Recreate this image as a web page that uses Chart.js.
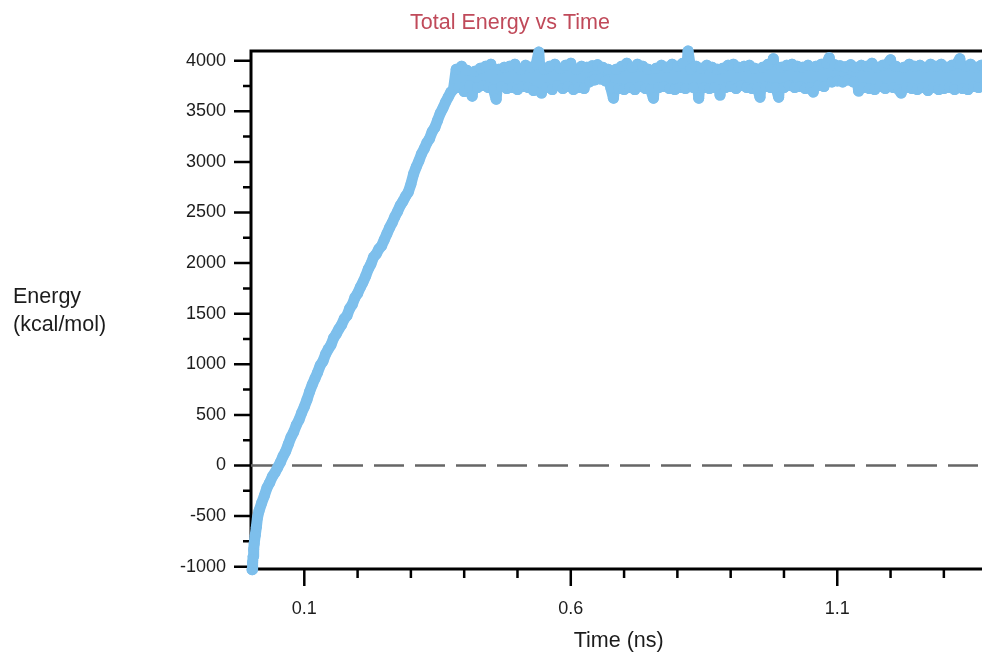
<!DOCTYPE html>
<html>
<head>
<meta charset="utf-8">
<title>Total Energy vs Time</title>
<script src="https://cdn.jsdelivr.net/npm/chart.js@4.4.1/dist/chart.umd.min.js"></script>
<style>
  html, body { margin: 0; padding: 0; background: #fff; overflow: hidden; }
  canvas { display: block; }
</style>
</head>
<body>
<canvas id="energyChart" width="992" height="655"></canvas>
<script>
const FONT = "'Liberation Sans', Arial, sans-serif";
const TEXT_COLOR = '#1c1c1c';
const SERIES_COLOR = 'rgb(125, 191, 236)';

// axis ticks
const X_TICKS = [0.1, 0.6, 1.1];
const X_MINOR = [0.2, 0.3, 0.4, 0.5, 0.7, 0.8, 0.9, 1.0, 1.2, 1.3];
const Y_TICKS = [-1000, -500, 0, 500, 1000, 1500, 2000, 2500, 3000, 3500, 4000];
const Y_MINOR = [-750, -250, 250, 750, 1250, 1750, 2250, 2750, 3250, 3750];

// simulation time (ns)
const TIME_NS = [
  0.002, 0.003, 0.004, 0.005, 0.006, 0.008, 0.010, 0.012, 0.015, 0.020,
  0.025, 0.030, 0.035, 0.040, 0.045, 0.050, 0.055, 0.060, 0.065, 0.070,
  0.075, 0.080, 0.085, 0.090, 0.095, 0.100, 0.105, 0.110, 0.115, 0.120,
  0.125, 0.130, 0.135, 0.140, 0.145, 0.150, 0.155, 0.160, 0.165, 0.170,
  0.175, 0.180, 0.185, 0.190, 0.195, 0.200, 0.205, 0.210, 0.215, 0.220,
  0.225, 0.230, 0.235, 0.240, 0.245, 0.250, 0.255, 0.260, 0.265, 0.270,
  0.275, 0.280, 0.285, 0.290, 0.295, 0.300, 0.305, 0.310, 0.315, 0.320,
  0.325, 0.330, 0.335, 0.340, 0.345, 0.350, 0.355, 0.360, 0.365, 0.370,
  0.375, 0.380,
  0.385, 0.390, 0.395, 0.400, 0.405, 0.410, 0.415, 0.420, 0.425, 0.430,
  0.435, 0.440, 0.445, 0.450, 0.455, 0.460, 0.465, 0.470, 0.475, 0.480,
  0.485, 0.490, 0.495, 0.500, 0.505, 0.510, 0.515, 0.520, 0.525, 0.530,
  0.535, 0.540, 0.545, 0.550, 0.555, 0.560, 0.565, 0.570, 0.575, 0.580,
  0.585, 0.590, 0.595, 0.600, 0.605, 0.610, 0.615, 0.620, 0.625, 0.630,
  0.635, 0.640, 0.645, 0.650, 0.655, 0.660, 0.665, 0.670, 0.675, 0.680,
  0.685, 0.690, 0.695, 0.700, 0.705, 0.710, 0.715, 0.720, 0.725, 0.730,
  0.735, 0.740, 0.745, 0.750, 0.755, 0.760, 0.765, 0.770, 0.775, 0.780,
  0.785, 0.790, 0.795, 0.800, 0.805, 0.810, 0.815, 0.820, 0.825, 0.830,
  0.835, 0.840, 0.845, 0.850, 0.855, 0.860, 0.865, 0.870, 0.875, 0.880,
  0.885, 0.890, 0.895, 0.900, 0.905, 0.910, 0.915, 0.920, 0.925, 0.930,
  0.935, 0.940, 0.945, 0.950, 0.955, 0.960, 0.965, 0.970, 0.975, 0.980,
  0.985, 0.990, 0.995, 1.000, 1.005, 1.010, 1.015, 1.020, 1.025, 1.030,
  1.035, 1.040, 1.045, 1.050, 1.055, 1.060, 1.065, 1.070, 1.075, 1.080,
  1.085, 1.090, 1.095, 1.100, 1.105, 1.110, 1.115, 1.120, 1.125, 1.130,
  1.135, 1.140, 1.145, 1.150, 1.155, 1.160, 1.165, 1.170, 1.175, 1.180,
  1.185, 1.190, 1.195, 1.200, 1.205, 1.210, 1.215, 1.220, 1.225, 1.230,
  1.235, 1.240, 1.245, 1.250, 1.255, 1.260, 1.265, 1.270, 1.275, 1.280,
  1.285, 1.290, 1.295, 1.300, 1.305, 1.310, 1.315, 1.320, 1.325, 1.330,
  1.335, 1.340, 1.345, 1.350, 1.355, 1.360, 1.365, 1.370, 1.375, 1.380,
];

// total energy (kcal/mol): heating ramp, then equilibrated plateau
const ENERGY = [
  -1030, -960, -900, -830, -770, -690, -610, -520, -450, -370,
  -300, -220, -170, -110, -70, -20, 30, 90, 140, 210,
  280, 330, 400, 450, 520, 580, 650, 730, 800, 860,
  920, 990, 1030, 1100, 1150, 1190, 1260, 1300, 1350, 1390,
  1450, 1480, 1550, 1590, 1660, 1700, 1760, 1810, 1870, 1940,
  1990, 2060, 2090, 2140, 2170, 2230, 2290, 2350, 2400, 2460,
  2510, 2570, 2610, 2660, 2700, 2780, 2880, 2950, 3010, 3080,
  3130, 3190, 3230, 3300, 3340, 3410, 3480, 3530, 3590, 3640,
  3690, 3720,
  3915, 3735, 3945, 3695, 3905, 3755, 3650, 3895, 3735, 3925,
  3755, 3945, 3735, 3965, 3715, 3620, 3915, 3745, 3935, 3725,
  3945, 3735, 3965, 3715, 3915, 3745, 3955, 3735, 3935, 3705,
  3965, 4085, 3680, 3915, 3735, 3945, 3715, 3965, 3755, 3925,
  3725, 3955, 3745, 3975, 3715, 3915, 3735, 3945, 3725, 3935,
  3790, 3950, 3810, 3960, 3820, 3935, 3800, 3915, 3735, 3630,
  3915, 3725, 3945, 3715, 3975, 3735, 3935, 3715, 3965, 3745,
  3945, 3725, 3915, 3715, 3630, 3925, 3735, 3955, 3745, 3935,
  3725, 3965, 3715, 3945, 3735, 3975, 3725, 4095, 3915, 3735,
  3945, 3630, 3925, 3735, 3955, 3725, 3935, 3735, 3915, 3660,
  3925, 3735, 3955, 3745, 3965, 3725, 3935, 3755, 3945, 3735,
  3955, 3725, 3925, 3735, 3640, 3935, 3745, 3965, 3735, 4020,
  3735, 3640, 3935, 3735, 3955, 3755, 3965, 3735, 3945, 3745,
  3935, 3725, 3955, 3735, 3690, 3945, 3755, 3965, 3745, 3975,
  4030, 3790, 3960, 3800, 3950, 3790, 3940, 3810, 3960, 3790,
  3935, 3700, 3955, 3735, 3945, 3725, 3975, 3715, 3935, 3745,
  3955, 3725, 3975, 4010, 3735, 3945, 3715, 3680, 3935, 3735,
  3965, 3725, 3945, 3715, 3955, 3735, 3935, 3705, 3965, 3735,
  3945, 3715, 3965, 3725, 3935, 3735, 3955, 3715, 3975, 4020,
  3725, 3945, 3715, 3965, 3745, 3935, 3735, 3955, 3755, 3945,
];

const X_RANGE = [0, 1.38];
const Y_RANGE = [-1023, 4096];

// frame, outward tick marks, title and the horizontal y-axis caption
const axisFrame = {
  id: 'axisFrame',
  beforeDatasetsDraw(chart) {
    const { ctx, chartArea: a, scales: { x, y } } = chart;
    ctx.save();
    ctx.strokeStyle = '#000';
    ctx.lineWidth = 3;
    ctx.beginPath();
    ctx.moveTo(a.right, a.top);
    ctx.lineTo(a.left, a.top);
    ctx.lineTo(a.left, a.bottom);
    ctx.lineTo(a.right, a.bottom);
    ctx.stroke();

    ctx.lineWidth = 2.5;
    ctx.beginPath();
    Y_TICKS.forEach(v => {
      const py = y.getPixelForValue(v);
      ctx.moveTo(a.left - 17, py); ctx.lineTo(a.left, py);
    });
    Y_MINOR.forEach(v => {
      const py = y.getPixelForValue(v);
      ctx.moveTo(a.left - 8, py); ctx.lineTo(a.left, py);
    });
    X_TICKS.forEach(v => {
      const px = x.getPixelForValue(v);
      ctx.moveTo(px, a.bottom); ctx.lineTo(px, a.bottom + 17);
    });
    X_MINOR.forEach(v => {
      const px = x.getPixelForValue(v);
      ctx.moveTo(px, a.bottom); ctx.lineTo(px, a.bottom + 9);
    });
    ctx.stroke();
    ctx.restore();
  },
  afterDraw(chart) {
    const { ctx } = chart;
    ctx.save();
    ctx.textBaseline = 'middle';
    ctx.fillStyle = '#c04a5a';
    ctx.font = `21.5px ${FONT}`;
    ctx.textAlign = 'center';
    ctx.fillText('Total Energy vs Time', 510, 23);

    ctx.fillStyle = TEXT_COLOR;
    ctx.textAlign = 'left';
    ctx.fillText('Energy', 13, 297);
    ctx.fillText('(kcal/mol)', 13, 325);
    ctx.restore();
  }
};

const points = TIME_NS.map((t, i) => ({ x: t, y: ENERGY[i] }));

new Chart(document.getElementById('energyChart'), {
  type: 'line',
  data: {
    datasets: [
      {
        data: points,
        borderColor: SERIES_COLOR,
        backgroundColor: SERIES_COLOR,
        borderWidth: 11,
        borderJoinStyle: 'round',
        borderCapStyle: 'round',
        pointRadius: 5.5,
        pointBorderWidth: 0,
        tension: 0,
        clip: false,
        order: 1,
      },
      {
        // zero reference line
        data: [{ x: X_RANGE[0], y: 0 }, { x: X_RANGE[1], y: 0 }],
        borderColor: '#666',
        borderWidth: 2.5,
        borderDash: [30, 11],
        pointRadius: 0,
        order: 2,
      },
    ],
  },
  options: {
    responsive: false,
    animation: false,
    events: [],
    layout: { padding: { top: 51, left: 0, right: 0, bottom: 0 } },
    plugins: {
      legend: { display: false },
      tooltip: { enabled: false },
      title: { display: false },
    },
    scales: {
      x: {
        type: 'linear',
        min: X_RANGE[0],
        max: X_RANGE[1],
        grid: { display: false },
        border: { display: false },
        afterBuildTicks: s => { s.ticks = X_TICKS.map(v => ({ value: v })); },
        afterFit: s => { s.height = 86; },
        ticks: {
          padding: 21,
          color: TEXT_COLOR,
          font: { family: FONT, size: 18 },
          maxRotation: 0,
          callback: v => v.toFixed(1),
        },
        title: {
          display: true,
          text: 'Time (ns)',
          color: TEXT_COLOR,
          font: { family: FONT, size: 21.5 },
          padding: { top: 0, bottom: 1 },
        },
      },
      y: {
        min: Y_RANGE[0],
        max: Y_RANGE[1],
        grid: { display: false },
        border: { display: false },
        afterBuildTicks: s => { s.ticks = Y_TICKS.map(v => ({ value: v })); },
        afterFit: s => { s.width = 251; },
        ticks: {
          padding: 17,
          color: TEXT_COLOR,
          font: { family: FONT, size: 18 },
          callback: v => String(v),
        },
      },
    },
  },
  plugins: [axisFrame],
});
</script>
</body>
</html>
